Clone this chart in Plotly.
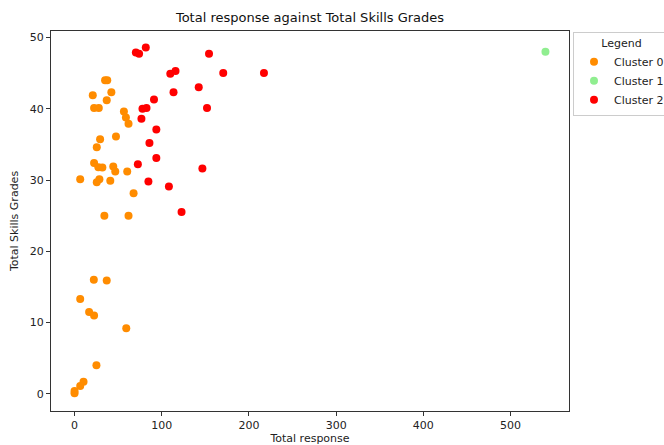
import plotly.graph_objects as go

# Cluster 0 (orange)
c0_response = [35.0, 37.5, 20.9, 42.2, 36.9, 22.4, 27.8, 56.6, 58.9, 61.9, 29.3, 47.5, 25.5,
               22.4, 27.3, 31.9, 44.4, 46.7, 60.4, 6.5, 25.5, 28.5, 41.0, 67.7, 34.2, 61.9,
               22.1, 36.9, 6.5, 16.7, 22.4, 59.3, 25.1, 10.3, 6.5, 0.0, 0.0]
c0_grades = [44.0, 44.0, 41.9, 42.3, 41.2, 40.1, 40.1, 39.6, 38.75, 37.9, 35.7, 36.1, 34.6,
             32.4, 31.8, 31.75, 31.9, 31.2, 31.2, 30.1, 29.7, 30.1, 29.9, 28.15, 25.0, 25.0,
             16.0, 15.9, 13.3, 11.5, 11.0, 9.2, 4.0, 1.7, 1.1, 0.1, 0.4]

# Cluster 1 (green)
c1_response = [540.0]
c1_grades = [48.0]

# Cluster 2 (red)
c2_response = [81.7, 70.3, 74.0, 109.8, 115.8, 113.5, 91.1, 77.9, 82.5, 76.7, 93.8, 85.9,
               93.8, 72.6, 84.7, 108.2, 154.2, 170.5, 142.4, 151.9, 146.6, 122.7, 217.2]
c2_grades = [48.6, 47.9, 47.7, 44.9, 45.3, 42.3, 41.3, 40.0, 40.1, 38.6, 37.1, 35.2,
             33.1, 32.2, 29.8, 29.1, 47.7, 45.0, 43.0, 40.1, 31.6, 25.5, 45.0]

clusters = [
    ("Cluster 0", c0_response, c0_grades, "darkorange"),
    ("Cluster 1", c1_response, c1_grades, "lightgreen"),
    ("Cluster 2", c2_response, c2_grades, "red"),
]

fig = go.Figure()
for name, xs, ys, color in clusters:
    fig.add_trace(go.Scatter(
        x=xs, y=ys, mode="markers", name=name,
        marker=dict(color=color, size=8, line=dict(width=0)),
    ))

axis_style = dict(
    showline=True, linecolor="#333", linewidth=1, mirror=True,
    showgrid=False, zeroline=False, automargin=False,
    ticks="outside", ticklen=4, tickcolor="#333",
    tickfont=dict(family="DejaVu Sans", size=11, color="#222"),
)

fig.update_layout(
    width=664, height=445,
    margin=dict(l=51, r=95, t=31, b=34),
    paper_bgcolor="white", plot_bgcolor="white",
    font=dict(family="DejaVu Sans", size=11, color="#222"),
    title=dict(text="Total response against Total Skills Grades", x=0.5, xref="paper",
               y=0.96, yref="container", yanchor="middle",
               font=dict(size=13, color="#111")),
    xaxis=dict(range=[-27, 567], tickvals=[0, 100, 200, 300, 400, 500],
               title=dict(text="Total response", standoff=4,
                          font=dict(size=11)), **axis_style),
    yaxis=dict(range=[-2.4, 50.9], tickvals=[0, 10, 20, 30, 40, 50],
               title=dict(text="Total Skills Grades", standoff=8,
                          font=dict(size=11)), **axis_style),
    legend=dict(
        title=dict(text="Legend", side="top center", font=dict(size=11)),
        xref="container", yref="container",
        x=573 / 664, xanchor="left", y=1 - 32 / 445, yanchor="top",
        bordercolor="#ccc", borderwidth=1, bgcolor="white",
        font=dict(size=11), tracegroupgap=0,
    ),
)

fig.write_html("out.html")
